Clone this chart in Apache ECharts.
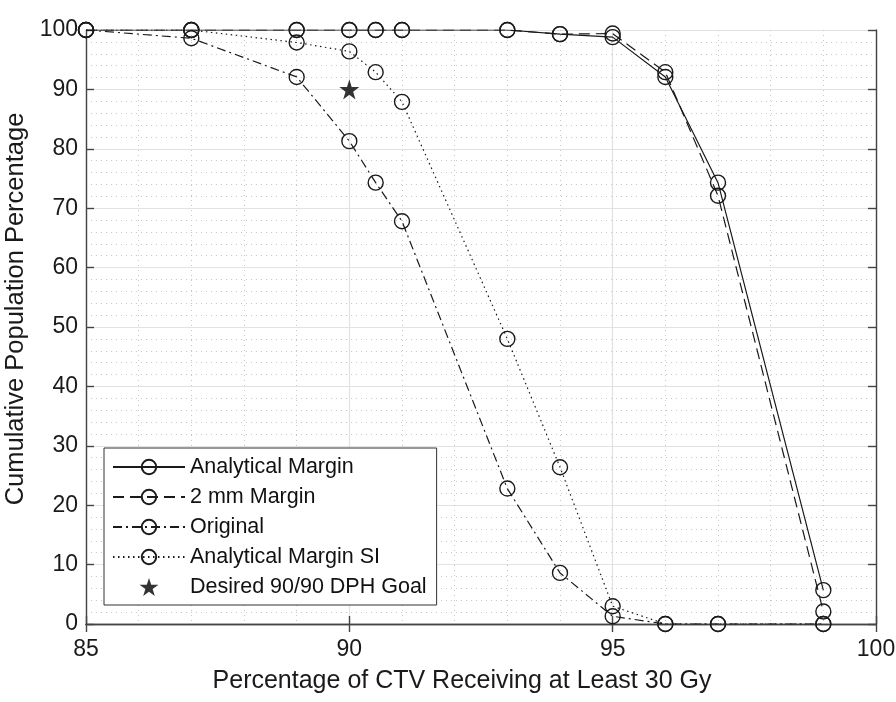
<!DOCTYPE html>
<html>
<head>
<meta charset="utf-8">
<script src="https://cdn.jsdelivr.net/npm/echarts@6/dist/echarts.min.js"></script>
<style>
html,body{margin:0;padding:0;background:#fff;}
#chart{width:896px;height:702px;}
</style>
</head>
<body>
<div id="chart"></div>
<script>
// ---- data ----
const xValues = [85, 87, 89, 90, 90.5, 91, 93, 94, 95, 96, 97, 99];
const analyticalMargin = [100, 100, 100, 100, 100, 100, 100, 99.3, 98.8, 92.1, 74.3, 5.7];
const twoMmMargin = [100, 100, 100, 100, 100, 100, 100, 99.3, 99.4, 92.9, 72.1, 2.1];
const original = [100, 98.6, 92.1, 81.3, 74.3, 67.8, 22.8, 8.6, 1.3, 0, 0, 0];
const analyticalMarginSI = [100, 100, 97.9, 96.4, 92.9, 87.9, 48.0, 26.4, 3.0, 0, 0, 0];
const goalPoint = [[90, 90]];
const seriesNames = ['Analytical Margin', '2 mm Margin', 'Original', 'Analytical Margin SI', 'Desired 90/90 DPH Goal'];
const xTickLabels = [85, 90, 95, 100];
const yTickLabels = [0, 10, 20, 30, 40, 50, 60, 70, 80, 90, 100];

const pairs = ys => xValues.map((x, i) => [x, ys[i]]);
const FONT = '"Liberation Sans", Arial, Helvetica, sans-serif';
const starPath = 'path://M50,0 L61.2,34.5 L97.6,34.5 L68.2,55.9 L79.4,90.5 L50,69.1 L20.6,90.5 L31.8,55.9 L2.4,34.5 L38.8,34.5 Z';

function lineSeries(name, ys, dash) {
  return {
    name: name, type: 'line', data: pairs(ys),
    symbol: 'circle', symbolSize: 15,
    showAllSymbol: true,
    itemStyle: {color: 'rgba(255,255,255,0)', borderColor: '#1a1a1a', borderWidth: 1.4},
    lineStyle: {color: '#1a1a1a', width: 1.2, type: dash},
    emphasis: {disabled: true},
    animation: false, z: 3
  };
}

const chart = echarts.init(document.getElementById('chart'), null, {renderer: 'canvas'});
const axisCommon = {
  axisLine: {show: true, lineStyle: {color: '#444', width: 1.4}},
  axisTick: {show: true, inside: true, length: 8, lineStyle: {color: '#444', width: 1.4}},
  axisLabel: {color: '#1a1a1a', fontSize: 23, fontFamily: FONT}
};
chart.setOption({
  animation: false,
  backgroundColor: '#fff',
  grid: {left: 86, right: 20, top: 30, bottom: 78, show: false, containLabel: false, outerBoundsMode: 'none'},
  legend: {
    orient: 'vertical', left: 104, top: 448,
    data: seriesNames,
    itemWidth: 72, itemHeight: 18, itemGap: 8,
    padding: [8, 10, 7, 8],
    backgroundColor: '#fff', borderColor: '#333', borderWidth: 1,
    textStyle: {fontSize: 21.5, color: '#111', fontFamily: FONT},
    selectedMode: false
  },
  xAxis: [
    Object.assign({}, axisCommon, {
      type: 'value', min: 85, max: 100, interval: 5, position: 'bottom',
      name: 'Percentage of CTV Receiving at Least 30 Gy',
      nameLocation: 'middle', nameGap: 45,
      nameTextStyle: {fontSize: 25, color: '#1a1a1a', fontFamily: FONT, padding: [0, 38, 0, 0]},
      axisLabel: Object.assign({}, axisCommon.axisLabel, {margin: 14,
        formatter: v => xTickLabels.includes(v) ? String(v) : ''}),
      splitLine: {show: true, lineStyle: {color: '#e2e2e2', width: 1.2}},
      minorTick: {show: false, splitNumber: 5},
      minorSplitLine: {show: true, lineStyle: {color: '#c8c8c8', width: 1, type: [1, 4]}}
    }),
    Object.assign({}, axisCommon, {
      type: 'value', min: 85, max: 100, interval: 5, position: 'top',
      axisLabel: {show: false}, splitLine: {show: false}
    })
  ],
  yAxis: [
    Object.assign({}, axisCommon, {
      type: 'value', min: 0, max: 100, interval: 10, position: 'left',
      name: 'Cumulative Population Percentage',
      nameLocation: 'middle', nameGap: 44,
      nameTextStyle: {fontSize: 25.5, color: '#1a1a1a', fontFamily: FONT, padding: [8, 0, 0, 36]},
      axisLabel: Object.assign({}, axisCommon.axisLabel, {margin: 8,
        formatter: v => yTickLabels.includes(v) ? String(v) : ''}),
      splitLine: {show: true, lineStyle: {color: '#e2e2e2', width: 1.2}},
      minorTick: {show: false, splitNumber: 5},
      minorSplitLine: {show: true, lineStyle: {color: '#c8c8c8', width: 1, type: [1, 4]}}
    }),
    Object.assign({}, axisCommon, {
      type: 'value', min: 0, max: 100, interval: 10, position: 'right',
      axisLabel: {show: false}, splitLine: {show: false}
    })
  ],
  series: [
    lineSeries(seriesNames[0], analyticalMargin, 'solid'),
    lineSeries(seriesNames[1], twoMmMargin, [11, 6]),
    lineSeries(seriesNames[2], original, [9, 4, 2, 4]),
    lineSeries(seriesNames[3], analyticalMarginSI, [1.5, 3.5]),
    {
      name: seriesNames[4], type: 'scatter', data: goalPoint,
      symbol: starPath, symbolSize: 20,
      itemStyle: {color: '#000'}, emphasis: {disabled: true}, z: 4
    }
  ]
});
</script>
</body>
</html>
